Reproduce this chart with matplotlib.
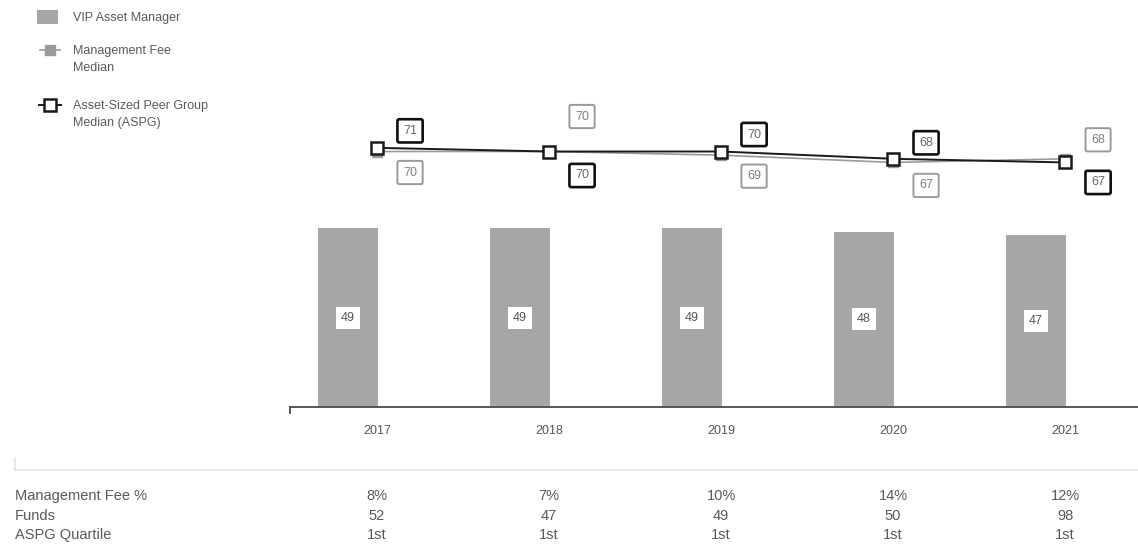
import matplotlib.pyplot as plt
import matplotlib.transforms as mtransforms
from matplotlib.lines import Line2D
from matplotlib.patches import Rectangle
import numpy as np

plt.rcParams['font.family'] = ['Liberation Sans', 'DejaVu Sans']

years = ['2017', '2018', '2019', '2020', '2021']
vip = [49, 49, 49, 48, 47]
fee_median = [70, 70, 69, 67, 68]
aspg_median = [71, 70, 70, 68, 67]

row_names = ['Management Fee %', 'Funds', 'ASPG Quartile']
fee_pct = ['8%', '7%', '10%', '14%', '12%']
funds = ['52', '47', '49', '50', '98']
quartile = ['1st', '1st', '1st', '1st', '1st']

# label offsets in pixels (dx fixed, dy per point)
fee_dy = [-21, 35, -21, -23, 19]
aspg_dy = [17, -24, 17, 16, -20]

W, H = 1138, 554
fig = plt.figure(figsize=(W / 100, H / 100), dpi=100)
ax = fig.add_axes([290 / W, 1 - 407 / H, 1 - 290 / W, 407 / H])

x = np.arange(len(years))
bar_w = 0.35
ax.bar(x + 0.006, vip, width=-bar_w, align='edge', color='#a6a6a6', zorder=1)
for xi, v in zip(x, vip):
    ax.text(xi + 0.006 - bar_w / 2, v / 2, str(v), ha='center', va='center', fontsize=9,
            color='#555555', bbox=dict(boxstyle='square,pad=0.4', fc='white', ec='none'))

ax.plot(x, fee_median, color='#9a9a9a', lw=1.2, marker='s', ms=7,
        mfc='#9a9a9a', mec='#9a9a9a', zorder=2)
ax.plot(x, aspg_median, color='#1a1a1a', lw=1.4, marker='s', ms=8,
        mfc='white', mec='#1a1a1a', mew=1.8, zorder=3)

for xi, v, dy in zip(x, fee_median, fee_dy):
    ax.annotate(str(v), (xi, v), xytext=(33, dy), textcoords='offset pixels',
                ha='center', va='center', fontsize=9, color='#808080',
                bbox=dict(boxstyle='round,pad=0.45,rounding_size=0.15', fc='white', ec='#9a9a9a', lw=1.4))
for xi, v, dy in zip(x, aspg_median, aspg_dy):
    ax.annotate(str(v), (xi, v), xytext=(33, dy), textcoords='offset pixels',
                ha='center', va='center', fontsize=9, color='#666666',
                bbox=dict(boxstyle='round,pad=0.45,rounding_size=0.15', fc='white', ec='#111111', lw=1.9))

ax.set_xlim(-0.506, 4.424)
ax.set_ylim(0, 407 / 3.65)
ax.set_xticks(x)
ax.set_xticklabels(years, fontsize=9, color='#555555')
ax.tick_params(axis='x', length=0, pad=13)
ax.set_yticks([])
for s in ['top', 'right', 'left']:
    ax.spines[s].set_visible(False)
ax.spines['bottom'].set_color('#555555')
ax.spines['bottom'].set_linewidth(1.4)
ax.plot([0, 0], [0, -0.015], transform=ax.transAxes, color='#555555', lw=1.4, clip_on=False)


# legend, drawn by hand so the key sits on the first text line
def fx(px):
    return px / W


def fy(py):
    return 1 - py / H


fig.add_artist(Rectangle((fx(37), fy(24)), fx(58) - fx(37), fy(10) - fy(24),
                         transform=fig.transFigure, fc='#a6a6a6', ec='none'))
fig.add_artist(Line2D([fx(40), fx(60)], [fy(50)] * 2, color='#9a9a9a', lw=1.2))
fig.add_artist(Line2D([fx(50)], [fy(50)], marker='s', ms=7, mfc='#9a9a9a', mec='#9a9a9a'))
fig.add_artist(Line2D([fx(39), fx(61)], [fy(105)] * 2, color='#1a1a1a', lw=1.4))
fig.add_artist(Line2D([fx(50)], [fy(105)], marker='s', ms=8, mfc='white', mec='#1a1a1a', mew=1.8))
leg_labels = ['VIP Asset Manager', 'Management Fee\nMedian', 'Asset-Sized Peer Group\nMedian (ASPG)']
leg_y = [17, 50, 105]
for lab, py in zip(leg_labels, leg_y):
    fig.text(fx(73), fy(py - 5), lab, ha='left', va='top', fontsize=9,
             color='#5a5a5a', linespacing=1.55)

# bottom table
fig.add_artist(Line2D([fx(15), 1], [fy(470)] * 2, color='#e3e3e3', lw=1.2))
fig.add_artist(Line2D([fx(15), fx(15)], [fy(470), fy(458)], color='#e3e3e3', lw=1.2))
trans = mtransforms.blended_transform_factory(ax.transData, fig.transFigure)
rows = [fee_pct, funds, quartile]
row_y = [496, 516, 535]
for name, vals, py in zip(row_names, rows, row_y):
    fig.text(fx(15), fy(py), name, ha='left', va='center', fontsize=10.5, color='#5a5a5a')
    for xi, v in zip(x, vals):
        ax.text(xi, fy(py), v, transform=trans, ha='center', va='center',
                fontsize=10.5, color='#5a5a5a', clip_on=False)

fig.savefig('out.png', dpi=100)
